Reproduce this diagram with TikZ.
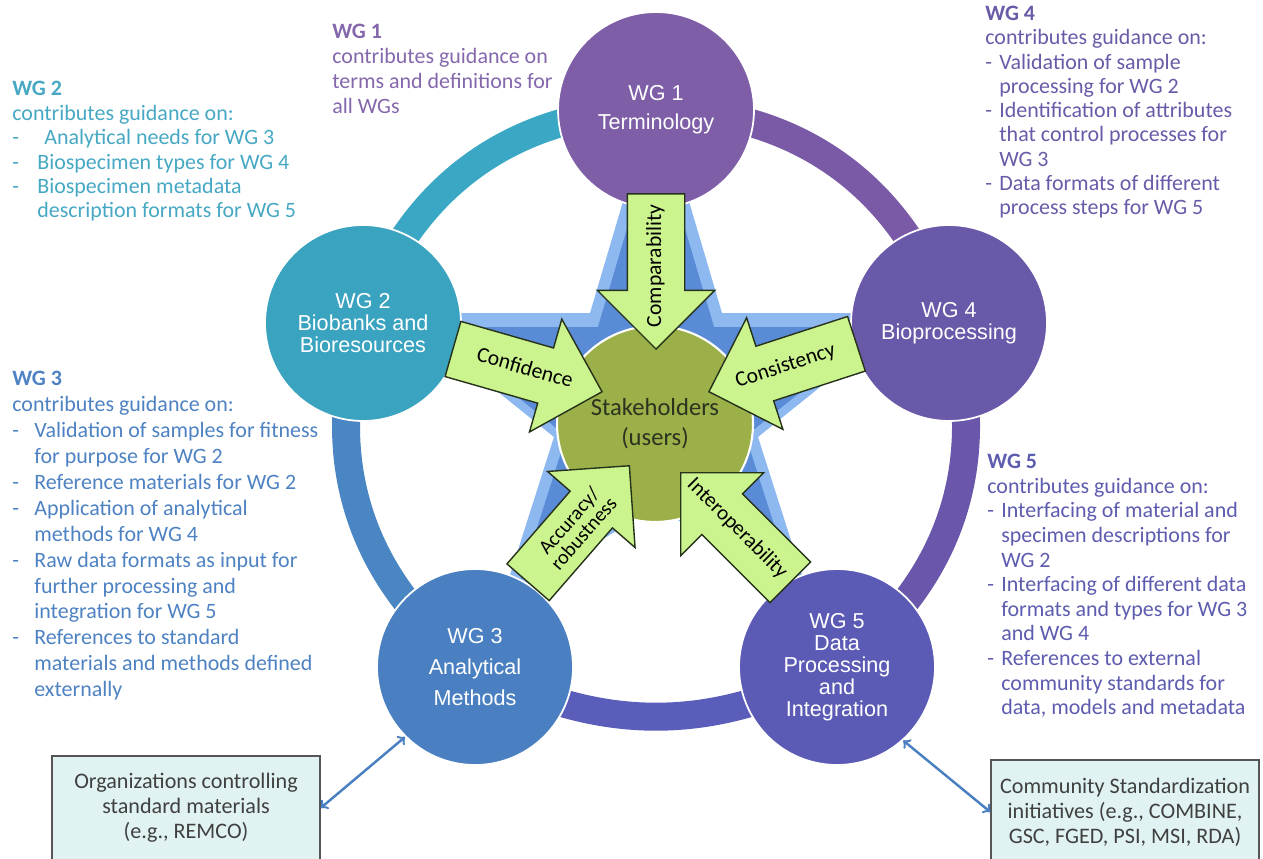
\documentclass[tikz,border=0pt]{standalone}
\usepackage{fontspec}
\setmainfont{Carlito}
\newfontfamily\arialfont{Liberation Sans}
\usetikzlibrary{shapes.arrows}

\definecolor{wgone}{HTML}{7D5EA7}
\definecolor{wgtwo}{HTML}{3AA3BF}
\definecolor{wgthree}{HTML}{4A80C1}
\definecolor{wgfour}{HTML}{6A58A8}
\definecolor{wgfive}{HTML}{5B5BB5}
\definecolor{ringa}{HTML}{3AA8C4}
\definecolor{ringb}{HTML}{7A5AA6}
\definecolor{ringc}{HTML}{6A57AB}
\definecolor{ringd}{HTML}{5A5DB9}
\definecolor{ringe}{HTML}{4A86C3}
\definecolor{starout}{HTML}{8DB9F0}
\definecolor{starin}{HTML}{5A8BD6}
\definecolor{users}{HTML}{9BB048}
\definecolor{usertext}{HTML}{2B3320}
\definecolor{goalfill}{HTML}{CCF48E}
\definecolor{goalline}{HTML}{26321A}
\definecolor{boxfill}{HTML}{E0F2F2}
\definecolor{boxline}{HTML}{555555}
\definecolor{boxtext}{HTML}{404040}
\definecolor{txtone}{HTML}{8467AC}
\definecolor{txttwo}{HTML}{46A8C3}
\definecolor{txtthree}{HTML}{4E82C2}
\definecolor{txtfour}{HTML}{6A5AA8}
\definecolor{txtfive}{HTML}{5D5CAF}

\newcommand{\wgdash}[1]{\makebox[#1][l]{-}}

\begin{document}
\begin{tikzpicture}[x=0.02cm,y=-0.02cm]
        \tikzstyle{wg} = [circle,minimum size=3.92cm,inner sep=0pt,draw=white,line width=1pt,text=white,align=center]
        \tikzstyle{ring} = [line width=0.56cm]
        \tikzstyle{goal} = [single arrow,anchor=tip,fill=goalfill,draw=goalline,line width=0.8pt,minimum height=3.06cm,single arrow head extend=0.6cm,inner xsep=0pt,font=\fontsize{12.3}{12}\selectfont]
        \tikzstyle{oneline} = [inner ysep=0pt,text height=0.66cm,text depth=0.46cm]
        \tikzstyle{notes} = [anchor=north west,align=left,inner sep=0pt]
        \tikzstyle{ext} = [draw=boxline,fill=boxfill,line width=0.8pt,minimum width=5.36cm,minimum height=2.08cm,align=center,text=boxtext,font=\fontsize{12.6}{14.2}\selectfont]
        \tikzstyle{link} = [<->,draw=wgthree,line width=1.4pt]

        \useasboundingbox (0,0) rectangle (1263,858);

        \coordinate (c1) at (656,110);
        \coordinate (c2) at (363,323);
        \coordinate (c3) at (475,667);
        \coordinate (c4) at (949,323);
        \coordinate (c5) at (837,667);

        % ring
        \draw[ring,ringa] (c2) to[bend left=36] (c1);
        \draw[ring,ringb] (c1) to[bend left=36] (c4);
        \draw[ring,ringc] (c4) to[bend left=36] (c5);
        \draw[ring,ringd] (c5) to[bend left=28] (c3);
        \draw[ring,ringe] (c3) to[bend left=36] (c2);

        % star
        \foreach \s/\c in {1/starout,0.88/starin}
            \fill[\c,shift={(656,430)},scale=\s,shift={(-656,-430)}] (656,90) -- (722,313) -- (912,313) -- (758,437) -- (810,600) -- (656,507) -- (502,600) -- (554,437) -- (400,313) -- (590,313) -- cycle;

        \node[wg,fill=wgone,font=\arialfont\fontsize{12.3}{16.4}\selectfont] (wg1) at (c1) {WG 1\\Terminology};
        \node[wg,fill=wgtwo,font=\arialfont\fontsize{12.3}{12.5}\selectfont] (wg2) at (c2) {WG 2\\Biobanks and\\Bioresources};
        \node[wg,fill=wgthree,font=\arialfont\fontsize{12.3}{17.6}\selectfont] (wg3) at (c3) {WG 3\\Analytical\\Methods};
        \node[wg,fill=wgfour,font=\arialfont\fontsize{12.3}{12.5}\selectfont] (wg4) at (c4) {WG 4\\Bioprocessing};
        \node[wg,fill=wgfive,font=\arialfont\fontsize{12.3}{12.5}\selectfont] (wg5) at (c5) {WG 5\\Data\\Processing\\and\\Integration};

        \node[circle,fill=users,draw=white,line width=1.2pt,minimum size=3.92cm,font=\fontsize{14}{17}\selectfont,text=usertext,align=center] (users) at (655,424) {Stakeholders\\(users)};

        \node[goal,oneline,shape border rotate=180,rotate=90] (comp) at (656,350) {\makebox[2.5cm]{\hspace*{-0.35cm}Comparability}};
        \node[goal,oneline,rotate=-16] (conf) at (603,392) {\makebox[2.5cm]{\hspace*{0.45cm}Confidence}};
        \node[goal,oneline,shape border rotate=180,rotate=18] (cons) at (708,392) {\makebox[2.5cm]{\hspace*{-0.45cm}Consistency}};
        \node[goal,inner ysep=6pt,font=\fontsize{11.5}{11}\selectfont,rotate=49] (accu) at (630,465) {\makebox[2.5cm]{\hspace*{0.4cm}\parbox[c]{2.2cm}{\centering Accuracy/\\robustness}}};
        \node[goal,oneline,shape border rotate=180,rotate=-45,font=\fontsize{12}{12}\selectfont] (inter) at (680,472) {\makebox[2.5cm]{\hspace*{-0.5cm}Interoperability}};

        \node[notes,text=txtone,font=\fontsize{12.5}{14.2}\selectfont] (noteone) at (332,24) {\textbf{WG 1}\\contributes guidance on\\terms and definitions for\\all WGs};
        \node[notes,text=txttwo,font=\fontsize{12.5}{13.9}\selectfont] (notetwo) at (12,81) {\textbf{WG 2}\\contributes guidance on:\\\wgdash{0.5cm}\hspace{0.14cm}Analytical needs for WG 3\\\wgdash{0.5cm}Biospecimen types for WG 4\\\wgdash{0.5cm}Biospecimen metadata\\\hspace*{0.5cm}description formats for WG 5};
        \node[notes,text=txtthree,font=\fontsize{12.5}{14.75}\selectfont] (notethree) at (12,371) {\textbf{WG 3}\\contributes guidance on:\\\wgdash{0.44cm}Validation of samples for fitness\\\hspace*{0.44cm}for purpose for WG 2\\\wgdash{0.44cm}Reference materials for WG 2\\\wgdash{0.44cm}Application of analytical\\\hspace*{0.44cm}methods for WG 4\\\wgdash{0.44cm}Raw data formats as input for\\\hspace*{0.44cm}further processing and\\\hspace*{0.44cm}integration for WG 5\\\wgdash{0.44cm}References to standard\\\hspace*{0.44cm}materials and methods defined\\\hspace*{0.44cm}externally};
        \node[notes,text=txtfour,font=\fontsize{12.5}{13.8}\selectfont] (notefour) at (985,6) {\textbf{WG 4}\\contributes guidance on:\\\wgdash{0.28cm}Validation of sample\\\hspace*{0.28cm}processing for WG 2\\\wgdash{0.28cm}Identification of attributes\\\hspace*{0.28cm}that control processes for\\\hspace*{0.28cm}WG 3\\\wgdash{0.28cm}Data formats of different\\\hspace*{0.28cm}process steps for WG 5};
        \node[notes,text=txtfive,font=\fontsize{12.5}{14}\selectfont] (notefive) at (987,454) {\textbf{WG 5}\\contributes guidance on:\\\wgdash{0.28cm}Interfacing of material and\\\hspace*{0.28cm}specimen descriptions for\\\hspace*{0.28cm}WG 2\\\wgdash{0.28cm}Interfacing of different data\\\hspace*{0.28cm}formats and types for WG 3\\\hspace*{0.28cm}and WG 4\\\wgdash{0.28cm}References to external\\\hspace*{0.28cm}community standards for\\\hspace*{0.28cm}data, models and metadata};

        \node[ext] (orgbox) at (186,808) {Organizations controlling\\standard materials\\(e.g., REMCO)};
        \node[ext] (commbox) at (1125,812) {Community Standardization\\initiatives (e.g., COMBINE,\\GSC, FGED, PSI, MSI, RDA)};

        \draw[link] (orgbox.east) -- (wg3.225);
        \draw[link] (wg5.-48) -- (commbox.west);

    \end{tikzpicture}
\end{document}
